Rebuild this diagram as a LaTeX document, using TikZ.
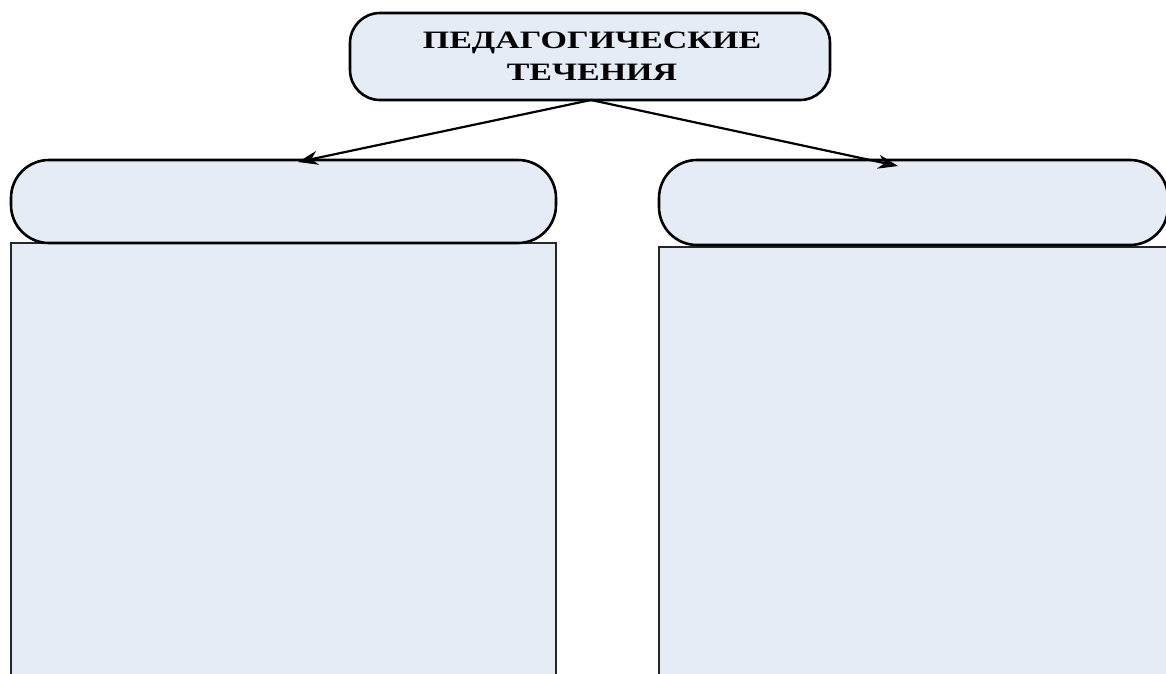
\documentclass[tikz,border=0pt]{standalone}
\usepackage{fontspec}
\setmainfont{Liberation Serif}
\usetikzlibrary{arrows.meta}
\definecolor{boxfill}{RGB}{230,236,246}
\tikzset{
  hdr/.style={draw=black, line width=2.6pt, fill=boxfill},
  body/.style={draw=black!85, line width=1.9pt, fill=boxfill},
  link/.style={draw=black, line width=2.2pt, -{Stealth[length=20pt,width=14pt]}},
}
\begin{document}
\begin{tikzpicture}[x=1pt,y=-1pt]
\useasboundingbox (0,0) rectangle (1166,673);
\clip (0,0) rectangle (1166,673);
% bodies
\path[body] (11,243) rectangle (556,690);
\path[body] (659,247) rectangle (1180,690);
% headers
\path[hdr,rounded corners=38pt] (11,160) rectangle (556,243);
\path[hdr,rounded corners=38pt] (659,160) rectangle (1168,245);
\path[hdr,rounded corners=30pt] (350,13) rectangle (830,100);
\node (top) at (592,56) [align=center, font=\fontsize{25}{32}\selectfont\bfseries, xscale=1.36] {ПЕДАГОГИЧЕСКИЕ\\ТЕЧЕНИЯ};
\coordinate (topb) at (591,100);
\coordinate (lt) at (298,162);
\coordinate (rt) at (898,166);
\draw[link] (topb) -- (lt);
\draw[link] (topb) -- (rt);
\end{tikzpicture}
\end{document}
